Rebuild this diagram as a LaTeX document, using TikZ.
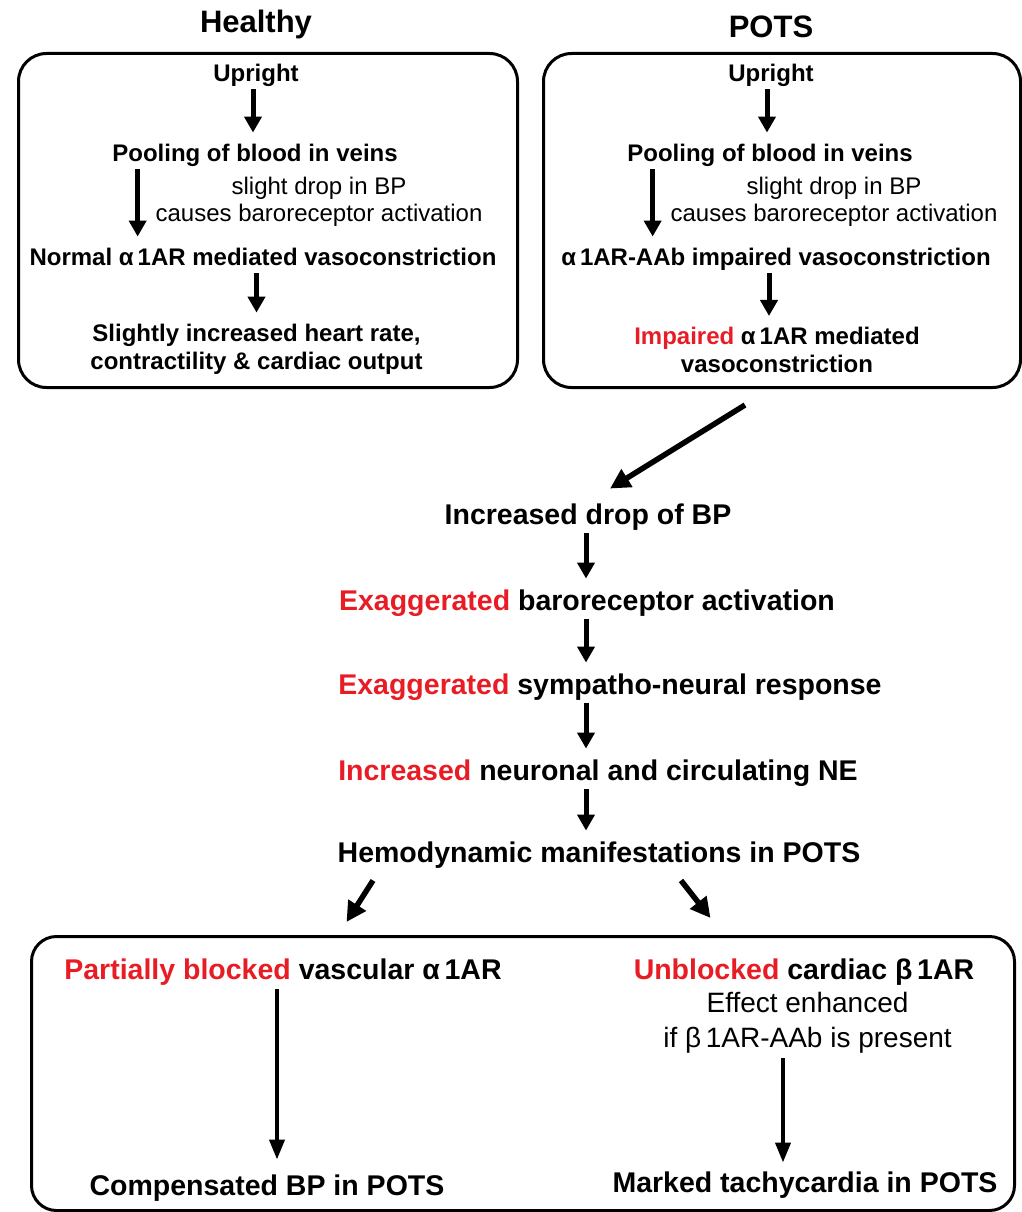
\documentclass[tikz,border=0pt]{standalone}
\usepackage{fontspec}
\setmainfont{Liberation Sans}
\usetikzlibrary{arrows.meta,calc}
\definecolor{hl}{RGB}{232,28,36}
\begin{document}
\begin{tikzpicture}[x=1pt,y=-1pt,
  box/.style={draw, line width=3pt, rounded corners=28pt, inner sep=0pt, anchor=north west},
  sm/.style={font=\fontsize{24}{28}\selectfont\bfseries, inner sep=0pt, text height=17.5pt, text depth=5pt, yshift=-2pt},
  smtwo/.style={font=\fontsize{24}{28}\selectfont\bfseries, inner sep=0pt, align=center, yshift=-2pt},
  smreg/.style={font=\fontsize{24}{27}\selectfont, inner sep=0pt, align=center, yshift=-2.5pt},
  bg/.style={font=\fontsize{28.5}{34}\selectfont\bfseries, inner sep=0pt, text height=20.5pt, text depth=6pt, yshift=-2pt},
  bgreg/.style={font=\fontsize{28}{35}\selectfont, inner sep=0pt, align=center, yshift=-2pt},
  ttl/.style={font=\fontsize{31}{36}\selectfont\bfseries, inner sep=0pt, yshift=-2pt},
  arr/.style={line width=5pt, -{Triangle[width=17pt,length=16pt]}, shorten <=3pt, shorten >=11pt},
  longarr/.style={line width=4pt, -{Triangle[width=15pt,length=20pt]}, shorten <=4pt, shorten >=12pt},
  diag/.style={line width=5.5pt, -{Triangle[width=20pt,length=20pt]}},
]
\useasboundingbox (0,0) rectangle (1021,1212);

% titles
\node[ttl] (th) at (256,22) {Healthy};
\node[ttl] (tp) at (771,25) {POTS};

% boxes
\node[box, minimum width=499pt, minimum height=334pt] (hbox) at (17,52) {};
\node[box, minimum width=477pt, minimum height=334pt] (pbox) at (542,52) {};
\node[box, rounded corners=25pt, minimum width=983pt, minimum height=274pt] (bbox) at (30,935) {};

% healthy column
\node[sm] (up1) at (256,73) {Upright};
\node[sm] (pool1) at (255,153) {Pooling of blood in veins};
\node[smreg] (bp1) at (319,199) {slight drop in BP\\causes baroreceptor activation};
\node[sm] (norm1) at (263,257) {Normal α\,1AR mediated vasoconstriction};
\node[smtwo] (sl1) at (256.5,347) {Slightly increased heart rate,\\contractility \& cardiac output};

\draw[arr] (up1.south -| 253,0) -- (pool1.north -| 253,0);
\coordinate (c1) at ([xshift=25.5pt]pool1.south west);
\draw[arr] (c1) -- (c1 |- norm1.north);
\draw[arr] (norm1.south -| sl1.north) -- (sl1.north);

% POTS column
\node[sm] (up2) at (771,73) {Upright};
\node[sm] (pool2) at (770,153) {Pooling of blood in veins};
\node[smreg] (bp2) at (834,199) {slight drop in BP\\causes baroreceptor activation};
\node[sm] (aab) at (776,257) {α\,1AR-AAb impaired vasoconstriction};
\node[smtwo] (imp) at (777,348) {{\color{hl}Impaired} α\,1AR mediated\\vasoconstriction};

\draw[arr] (up2.south -| 767,0) -- (pool2.north -| 767,0);
\coordinate (c2) at ([xshift=25.5pt]pool2.south west);
\draw[arr] (c2) -- (c2 |- aab.north);
\draw[arr] (aab.south -| 769,0) -- (imp.north -| 769,0);

% middle chain
\node[bg] (drop) at (588,515) {Increased drop of BP};
\node[bg] (ex1) at (587,601) {{\color{hl}Exaggerated} baroreceptor activation};
\node[bg] (ex2) at (610,685) {{\color{hl}Exaggerated} sympatho-neural response};
\node[bg] (ne) at (598,771) {{\color{hl}Increased} neuronal and circulating NE};
\node[bg] (hem) at (599,853) {Hemodynamic manifestations in POTS};

\coordinate (mx) at (586,0);
\draw[arr] (drop.south -| mx) -- (ex1.north -| mx);
\draw[arr] (ex1.south -| mx) -- (ex2.north -| mx);
\draw[arr] (ex2.south -| mx) -- (ne.north -| mx);
\draw[arr] (ne.south -| mx) -- (hem.north -| mx);

\draw[diag] ([xshift=-37pt,yshift=-16pt]pbox.south) -- ([xshift=22pt,yshift=15pt]drop.north);
\draw[diag] ([xshift=-226pt,yshift=-12pt]hem.south) -- ([xshift=-176.5pt,yshift=13pt]bbox.north);
\draw[diag] ([xshift=82pt,yshift=-12pt]hem.south) -- ([xshift=187.5pt,yshift=17pt]bbox.north);

% bottom box
\node[bg] (part) at (283,970) {{\color{hl}Partially blocked} vascular α\,1AR};
\node[bg] (comp) at (267,1186) {Compensated BP in POTS};
\node[bg] (unb) at (804,970) {{\color{hl}Unblocked} cardiac β\,1AR};
\node[bgreg] (eff) at (807.5,1021) {Effect enhanced\\if β\,1AR-AAb is present};
\node[bg] (mark) at (805,1183) {Marked tachycardia in POTS};

\draw[longarr, shorten >=15pt] (part.south -| 277,0) -- (comp.north -| 277,0);
\draw[longarr, shorten >=9pt] (eff.south -| 783,0) -- (mark.north -| 783,0);
\end{tikzpicture}
\end{document}
